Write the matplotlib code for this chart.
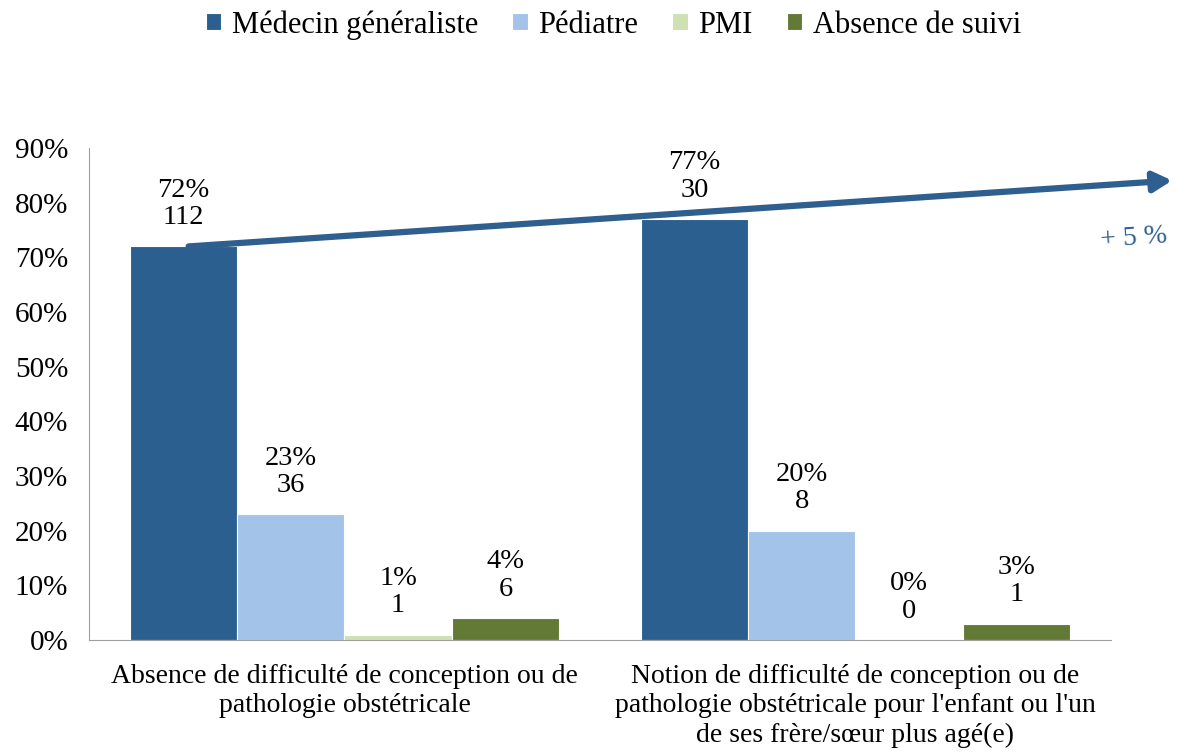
import numpy as np
import matplotlib
matplotlib.use('Agg')
import matplotlib.pyplot as plt

plt.rcParams['font.family'] = ['Liberation Serif', 'DejaVu Serif']

# Pourcentages et effectifs par mode de suivi, pour chaque groupe
categories = ["Absence de difficulté de conception ou de\npathologie obstétricale",
              "Notion de difficulté de conception ou de\npathologie obstétricale pour l'enfant ou l'un\nde ses frère/sœur plus agé(e)"]
series = ["Médecin généraliste", "Pédiatre", "PMI", "Absence de suivi"]
pcts = {
    "Médecin généraliste": [72, 77],
    "Pédiatre": [23, 20],
    "PMI": [1, 0],
    "Absence de suivi": [4, 3],
}
counts = {
    "Médecin généraliste": [112, 30],
    "Pédiatre": [36, 8],
    "PMI": [1, 0],
    "Absence de suivi": [6, 1],
}
colors = ["#2a5f8f", "#a4c3e9", "#cfe0b2", "#627a36"]

fig = plt.figure(figsize=(11.8, 7.56), dpi=100)
ax = fig.add_axes([0.0754, 0.1534, 0.866, 0.6508])

x = np.arange(len(categories))
w = 0.21
for i, s in enumerate(series):
    xs = x + (i - 1.5) * w
    vals = np.array(pcts[s]) / 100
    ax.bar(xs, vals, width=w, color=colors[i], label=s, edgecolor='white', linewidth=0.8)
    for xi, p, pv, n in zip(xs, vals, pcts[s], counts[s]):
        ax.text(xi, p + 0.03, f"{pv}%\n{n}", ha='center', va='bottom',
                fontsize=20.5, linespacing=1.12)

ax.set_xlim(-0.5, 1.5)
ax.set_ylim(0, 0.9)
ax.set_yticks(np.arange(0, 0.91, 0.1))
ax.set_yticklabels([f"{v}%" for v in range(0, 91, 10)], fontsize=21)
ax.set_xticks(x)
ax.set_xticklabels(categories, fontsize=20, linespacing=1.24)
ax.tick_params(length=0, pad=17)
ax.tick_params(axis='y', pad=15)
for side in ['top', 'right']:
    ax.spines[side].set_visible(False)
ax.spines['left'].set_color('#a0a0a0')
ax.spines['bottom'].set_color('#a0a0a0')

# Flèche d'évolution du médecin généraliste
mg = np.array(pcts["Médecin généraliste"]) / 100
x0, x1 = x[0] - 1.5 * w + 0.01, x[1] - 1.5 * w
slope = (mg[1] + 0.012 - mg[0]) / (x1 - x0)
xe = 1.62
ax.annotate("", xy=(xe, mg[0] + slope * (xe - x0)), xytext=(x0, mg[0]),
            arrowprops=dict(arrowstyle='-|>,head_length=1.1,head_width=0.6',
                            color='#2e5f8e', lw=4.5, shrinkA=0, shrinkB=0),
            annotation_clip=False)
diff = pcts["Médecin généraliste"][1] - pcts["Médecin généraliste"][0]
ax.text(1.545, 0.735, f"+ {diff} %", color='#2e5f8e', fontsize=20,
        ha='center', va='center', rotation=4, clip_on=False)

fig.legend(loc='upper center', bbox_to_anchor=(0.52, 1.023), ncol=4, frameon=False,
           fontsize=22, handlelength=0.5, handleheight=0.5, handletextpad=0.35,
           columnspacing=1.12)

fig.savefig("out.png", dpi=100)
